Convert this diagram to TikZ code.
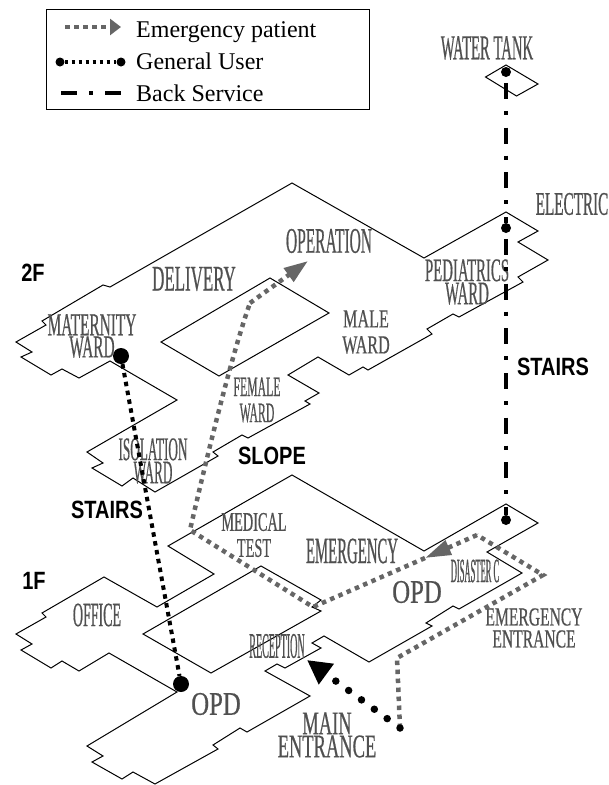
\documentclass[tikz,border=0pt]{standalone}
\usepackage{fontspec}
\usepackage{tikz}
\usetikzlibrary{arrows.meta}
\setmainfont{Liberation Serif}
\newfontfamily\flagface[FakeStretch=0.8]{Liberation Sans}
\newcommand{\roomfont}[3]{\fontspec[FakeStretch=#1,FakeBold=0.5]{Liberation Serif}\fontsize{#2}{#3}\selectfont}
\definecolor{labelgray}{HTML}{505050}
\definecolor{routegray}{HTML}{666666}
\begin{document}
\begin{tikzpicture}[
    x=1pt,y=-1pt,
    outline/.style={draw=black,line width=1pt,line join=miter},
    room/.style n args={3}{text=labelgray,inner sep=0pt,align=center,font=\roomfont{#1}{#2}{#3}},
    flag/.style={text=black,inner sep=0pt,font=\flagface\bfseries\fontsize{25}{25}\selectfont},
    legendtext/.style={anchor=base west,inner sep=0pt,font=\fontsize{24}{24}\selectfont},
    enddot/.style={circle,fill=black,inner sep=0pt,minimum size=#1},
    emroute/.style={routegray,line width=4.5pt,dash pattern=on 4.5pt off 4.5pt},
    genroute/.style={black,line width=4pt,dash pattern=on 4.5pt off 4.5pt},
    backroute/.style={black,line width=4pt,dash pattern=on 16pt off 12pt on 4pt off 12.7pt,dash phase=39pt},
    mainroute/.style={black,line width=7.5pt,line cap=round,dash pattern=on 0pt off 15.9pt}
  ]
    \useasboundingbox (0,0) rectangle (609,785);

    % second floor
    \draw[outline] (292,183) -- (424,258) -- (506,212) -- (538,231) -- (518,242) -- (548,260)
      -- (518,277) -- (523,282) -- (459,317) -- (453,314) -- (427,329) -- (432,334) -- (368,370)
      -- (363,367) -- (349,375) -- (318,357) -- (288,375) -- (319,393) -- (305,401) -- (310,404)
      -- (248,438) -- (242,435) -- (213,452) -- (218,456) -- (155,492) -- (133,478) -- (122,486)
      -- (92,468) -- (103,463) -- (87,452) -- (177,400) -- (110,361) -- (79,378) -- (62,369)
      -- (51,375) -- (21,357) -- (32,352) -- (16,342) -- (46,325) -- (42,321) -- (103,285)
      -- (110,287) -- cycle;
    \draw[outline] (270,278) -- (329,313) -- (219,376) -- (161,342) -- cycle;

    % first floor
    \draw[outline] (104,577) -- (157,607) -- (214,574) -- (168,546) -- (292,475) -- (424,551)
      -- (506,504) -- (538,523) -- (487,552) -- (522,573) -- (459,609) -- (453,606) -- (426,623)
      -- (432,626) -- (369,662) -- (324,636) -- (312,643) -- (321,648) -- (285,668) -- (277,664)
      -- (265,671) -- (310,696) -- (247,732) -- (240,728) -- (213,745) -- (218,749) -- (155,784)
      -- (133,772) -- (122,779) -- (92,762) -- (103,756) -- (87,746) -- (177,692) -- (109,653)
      -- (79,671) -- (62,661) -- (51,668) -- (21,650) -- (32,644) -- (16,634) -- (46,617)
      -- (42,613) -- cycle;
    \draw[outline] (261,566) -- (321,600) -- (312,607) -- (321,611) -- (211,673) -- (143,634) -- cycle;

    % water tank
    \draw[outline] (506,65) -- (538,84) -- (516.5,96) -- (485.5,77) -- cycle;

    \node[room={.42}{35}{35}] (tank) at (487,48) {WATER TANK};
    \node[room={.46}{33}{33}] (electric) at (572,204) {ELECTRIC};
    \node[room={.43}{36}{36}] (operation) at (329,241) {OPERATION};
    \node[room={.47}{36}{36}] (delivery) at (194,279) {DELIVERY};
    \node[room={.62}{26}{26}] (male) at (366,332) {MALE\\WARD};
    \node[room={.45}{33}{22}] (pediatrics) at (467,282) {PEDIATRICS\\WARD};
    \node[room={.48}{32}{21}] (maternity) at (92,336) {MATERNITY\\WARD};
    \node[room={.42}{28}{26}] (female) at (257,400) {FEMALE\\WARD};
    \node[room={.40}{33}{22}] (isolation) at (153,461) {ISOLATION\\WARD};
    \node[room={.53}{27}{26}] (medical) at (254,535) {MEDICAL\\TEST};
    \node[room={.40}{37}{37}] (emergency) at (352,551) {EMERGENCY};
    \node[room={.75}{33}{33}] (opdup) at (417,592) {OPD};
    \node[room={.25}{34}{34}] (disaster) at (475,571) {DISASTER C};
    \node[room={.60}{26}{22}] (emgate) at (534,628) {EMERGENCY\\ENTRANCE};
    \node[room={.41}{34}{34}] (office) at (97,615) {OFFICE};
    \node[room={.28}{36}{36}] (reception) at (277,646) {RECEPTION};
    \node[room={.75}{33}{33}] (opdlow) at (216,704) {OPD};
    \node[room={.56}{33}{23}] (maingate) at (327,735) {MAIN\\ENTRANCE};

    \node[flag] (twof) at (33,273) {2F};
    \node[flag] (onef) at (34,581) {1F};
    \node[flag] (slope) at (272,456) {SLOPE};
    \node[flag] (stairsa) at (107,510) {STAIRS};
    \node[flag] (stairsb) at (553,367) {STAIRS};

    % route ends
    \node[enddot=10pt] (tankdot) at (506,72) {};
    \node[enddot=10pt] (electricdot) at (506,228) {};
    \node[enddot=10pt] (emdot) at (506,520) {};
    \node[enddot=16pt] (matdot) at (121,356) {};
    \node[enddot=16pt] (opddot) at (181,684) {};
    \coordinate (gatea) at (400,728);
    \coordinate (gateb) at (397,658);
    \coordinate (gatec) at (543,575);
    \coordinate (gated) at (477,535);
    \coordinate (tipa) at (425,558);
    \coordinate (recp) at (313,607);
    \coordinate (bend) at (190,530);
    \coordinate (turn) at (250,303);
    \coordinate (tipb) at (308,261);
    \coordinate (maintip) at (307,660);

    \draw[backroute] (tankdot) -- (electricdot);
    \draw[backroute] (electricdot) -- (emdot);
    \draw[genroute] (matdot) -- (opddot);
    \draw[emroute] (gatea) -- (gateb) -- (gatec) -- (gated);
    \draw[emroute,-{Triangle[length=26pt,width=15pt]}] (gated) -- (tipa);
    \draw[emroute] (tipa) -- (recp) -- (bend) .. controls (213,430) and (235,345) .. (turn);
    \draw[emroute,-{Triangle[length=24pt,width=16pt]}] (turn) -- (tipb);
    \draw[mainroute,-{Triangle[length=24pt,width=24pt]}] (gatea) -- (maintip);

    % legend
    \node[draw=black,line width=1pt,minimum width=323pt,minimum height=100pt,inner sep=0pt] (legendbox) at (208,59) {};
    \coordinate (lema) at (65,27);
    \coordinate (lemb) at (121,27);
    \node[enddot=9pt] (lgena) at (60,62) {};
    \node[enddot=9pt] (lgenb) at (121,62) {};
    \coordinate (lbaka) at (61,93);
    \coordinate (lbakb) at (121,93);
    \draw[emroute,dash pattern=on 5pt off 4pt,-{Triangle[length=11pt,width=16pt]}] (lema) -- (lemb);
    \draw[genroute,line width=3.5pt,dash pattern=on 3.5pt off 3.5pt] (lgena) -- (lgenb);
    \draw[black,line width=4pt,dash pattern=on 16pt off 12pt on 4pt off 12pt] (lbaka) -- (lbakb);
    \node[legendtext] (lemtext) at (136,37) {Emergency patient};
    \node[legendtext] (lgentext) at (136,69) {General User};
    \node[legendtext] (lbaktext) at (136,101) {Back Service};
\end{tikzpicture}
\end{document}
